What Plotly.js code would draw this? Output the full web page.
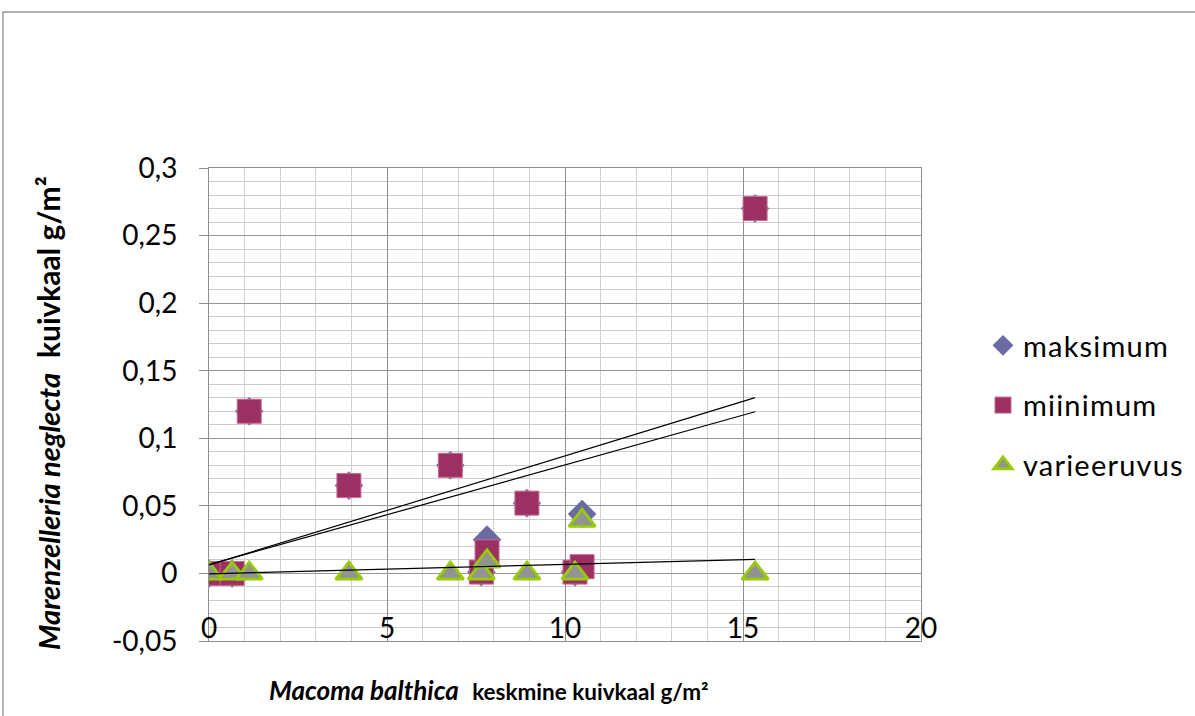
<!DOCTYPE html>
<html>
<head>
<meta charset="utf-8">
<script src="https://cdn.plot.ly/plotly-3.0.1.min.js"></script>
<style>
html,body{margin:0;padding:0;background:#ffffff;}
#chart{width:1195px;height:716px;}
</style>
</head>
<body>
<div id="chart"></div>
<script>
// Data
const xVals       = [0, 0.65, 1.13, 3.93, 6.78, 7.65, 7.81, 8.93, 10.28, 10.48, 15.34];
const maksimum    = [0, 0, 0.12, 0.065, 0.08, 0.001, 0.025, 0.052, 0.001, 0.044, 0.27];
const miinimum    = [0, 0, 0.12, 0.065, 0.08, 0.001, 0.016, 0.052, 0.001, 0.005, 0.27];
const varieeruvus = [0, 0, 0, 0, 0, 0, 0.009, 0, 0, 0.039, 0];
const seriesNames = ["maksimum", "miinimum", "varieeruvus"];
const xTickVals = [0, 5, 10, 15, 20];
const yTickVals = [0.3, 0.25, 0.2, 0.15, 0.1, 0.05, 0, -0.05];
const yTickText = ["0,3", "0,25", "0,2", "0,15", "0,1", "0,05", "0", "-0,05"];

// Linear least-squares trendline (as Excel's linear trendline)
function linfit(x, y) {
  const n = x.length;
  const mx = x.reduce((a, b) => a + b, 0) / n;
  const my = y.reduce((a, b) => a + b, 0) / n;
  let sxy = 0, sxx = 0;
  for (let i = 0; i < n; i++) { sxy += (x[i] - mx) * (y[i] - my); sxx += (x[i] - mx) * (x[i] - mx); }
  const b = sxy / sxx, a = my - b * mx;
  const x0 = Math.min(...x), x1 = Math.max(...x);
  return { x: [x0, x1], y: [a + b * x0, a + b * x1] };
}

const FONT = "Lato, 'Liberation Sans', sans-serif";
const spaced = s => '<span style="letter-spacing:1.2px">' + s + '</span>';

const traces = [
  { type: "scatter", mode: "markers", name: spaced(seriesNames[0]), x: xVals, y: maksimum,
    legendgroup: "a",
    marker: { symbol: "diamond", size: 22, color: "#6b6ba3", line: { width: 0 } } },
  { type: "scatter", mode: "markers", name: spaced(seriesNames[1]), x: xVals, y: miinimum,
    legendgroup: "b",
    marker: { symbol: "square", size: 24, color: "#9b3163", line: { width: 1, color: "#c56a93" } } },
  { type: "scatter", mode: "markers", name: spaced(seriesNames[2]), x: xVals, y: varieeruvus,
    legendgroup: "c",
    marker: { symbol: "triangle-up", size: 23, color: "#939393", line: { width: 2.8, color: "#99cc00" } } }
];

[maksimum, miinimum, varieeruvus].forEach(function (ys) {
  const f = linfit(xVals, ys);
  traces.push({ type: "scatter", mode: "lines", x: f.x, y: f.y, showlegend: false,
    hoverinfo: "skip", line: { color: "#000000", width: 1.2 } });
});

const L = 209, R = 921, T = 168, B = 641, W = 1195, H = 716;
const px = v => (v - L) / (R - L);
const py = v => (B - v) / (B - T);

const layout = {
  width: W, height: H,
  margin: { l: L, r: W - R, t: T, b: H - B, pad: 0, autoexpand: false },
  paper_bgcolor: "#ffffff", plot_bgcolor: "#ffffff",
  separators: ", ",
  showlegend: true,
  font: { family: FONT, color: "#000000" },
  xaxis: {
    range: [0, 20], tickmode: "array", tickvals: xTickVals,
    showgrid: true, gridcolor: "#8e8e8e", gridwidth: 1,
    minor: { dtick: 1, tick0: 0, showgrid: true, gridcolor: "#d0d0d0", gridwidth: 1, ticks: "" },
    zeroline: false, showline: true, linecolor: "#8e8e8e", linewidth: 1, mirror: true,
    ticks: "", ticklabelposition: "inside", ticklabeloverflow: "allow",
    tickfont: { family: FONT, size: 28, color: "#000000" }
  },
  yaxis: {
    range: [-0.05, 0.3], tickmode: "array", tickvals: yTickVals, ticktext: yTickText,
    showgrid: true, gridcolor: "#969696", gridwidth: 1,
    minor: { dtick: 0.01, tick0: 0, showgrid: true, gridcolor: "#cccccc", gridwidth: 1, ticks: "" },
    zeroline: false, showline: true, linecolor: "#8e8e8e", linewidth: 1, mirror: true,
    ticks: "outside", ticklen: 9, tickcolor: "#8e8e8e", tickwidth: 1,
    ticklabelstandoff: 16,
    tickfont: { family: FONT, size: 28, color: "#000000" }
  },
  legend: {
    x: px(983), y: py(320), xanchor: "left", yanchor: "top",
    traceorder: "grouped", tracegroupgap: 19,
    bgcolor: "rgba(0,0,0,0)", borderwidth: 0,
    font: { family: FONT, size: 29, color: "#000000" }
  },
  annotations: [
    { xref: "paper", yref: "paper", x: px(489), y: py(690), xanchor: "center", yanchor: "middle",
      showarrow: false,
      text: "<b><i>Macoma balthica</i></b>  <b><span style=\"font-size:22.5px\">keskmine kuivkaal g/m²</span></b>",
      font: { family: FONT, size: 26, color: "#000000" } },
    { xref: "paper", yref: "paper", x: px(48), y: py(413), xanchor: "center", yanchor: "middle",
      showarrow: false, textangle: -90,
      text: "<b><i>Marenzelleria neglecta</i></b>  <b><span style=\"font-size:30px\">kuivkaal g/m²</span></b>",
      font: { family: FONT, size: 29, color: "#000000" } }
  ],
  shapes: [
    { type: "path", xref: "paper", yref: "paper",
      path: "M " + px(3) + " " + py(716) + " L " + px(3) + " " + py(12) + " L " + px(1195) + " " + py(12),
      line: { color: "#9a9a9a", width: 1.5 } }
  ]
};

Plotly.newPlot("chart", traces, layout, { displayModeBar: false, staticPlot: true });
</script>
</body>
</html>
